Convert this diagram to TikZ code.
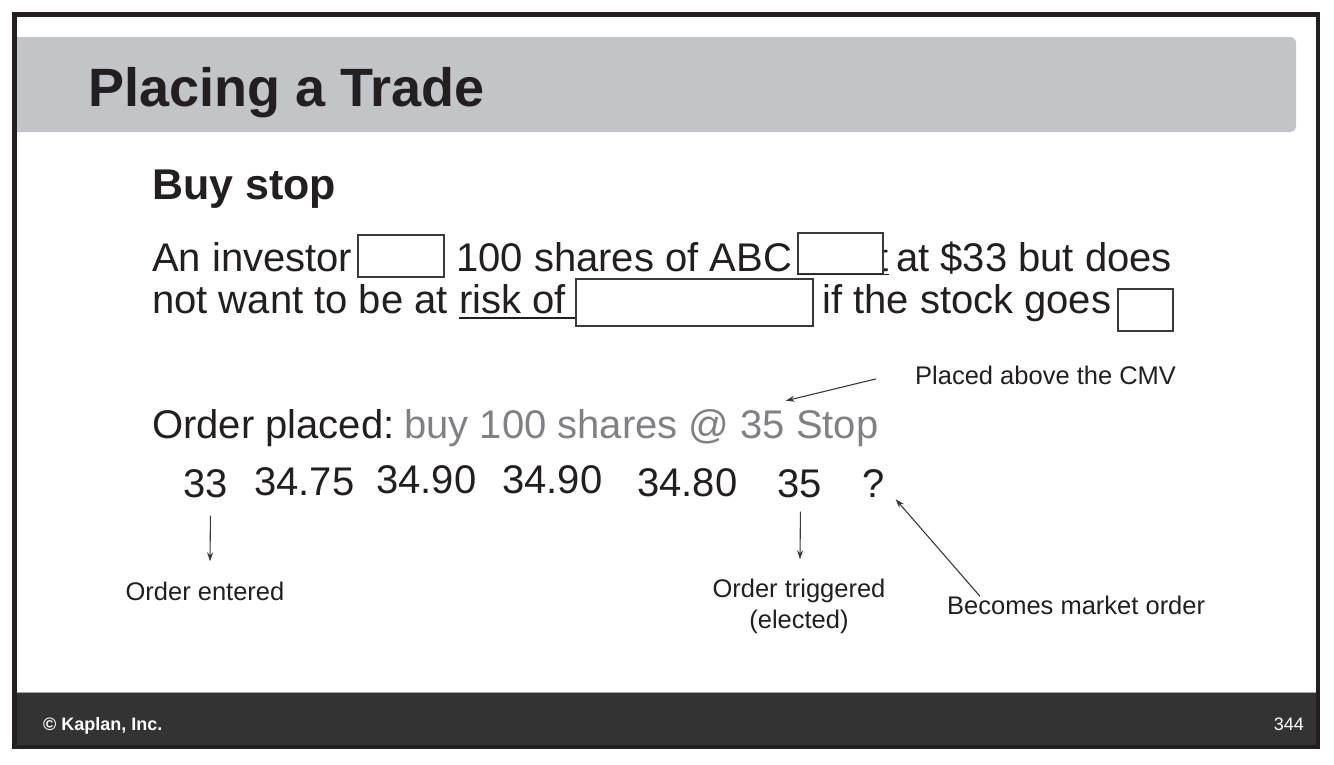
\documentclass[tikz,border=0pt]{standalone}
\usepackage{fontspec}
\setmainfont{Liberation Sans}
\usetikzlibrary{arrows.meta}
\definecolor{ink}{HTML}{231F20}
\definecolor{hdr}{HTML}{C3C4C7}
\definecolor{ftr}{HTML}{333333}
\definecolor{gtxt}{HTML}{808184}
\definecolor{lnc}{HTML}{3A3A3A}
\begin{document}
\begin{tikzpicture}[x=1pt,y=-1pt,
  body/.style={font=\fontsize{40}{48}\selectfont, text=ink, inner sep=0pt, anchor=base west},
  small/.style={font=\fontsize{25.5}{30}\selectfont, text=ink, inner sep=0pt},
  blank/.style={draw=lnc, line width=1.5pt, fill=white, inner sep=0pt, anchor=north west},
  arr/.style={draw=lnc, line width=1.1pt, -{Stealth[length=9pt,width=6pt]}},
  uline/.style={draw=ink, line width=1.8pt},
]
\useasboundingbox (0,0) rectangle (1334,764);
\fill[white] (0,0) rectangle (1334,764);
% header bar and footer
\fill[hdr] (14,37) [rounded corners=6pt] -- (1296,37) -- (1296,132) [sharp corners] -- (14,132) -- cycle;
\fill[ftr] (14,692) rectangle (1318,747);
\draw[gray!70, line width=0.8pt] (17,692) -- (1316,692);
% frame
\draw[ink, line width=4.5pt] (14.5,14.5) rectangle (1318,747);
% title
\node[anchor=base west, inner sep=0pt, font=\bfseries\fontsize{54}{60}\selectfont, text=ink] (title) at (88,106) {Placing a Trade};
\node[anchor=base west, inner sep=0pt, font=\bfseries\fontsize{43}{50}\selectfont, text=ink] (sub) at (152,199) {Buy stop};
% sentence line 1
\node[body] (l1a) at (152,271) {An investor};
\node[body] (l1b) at (456,271) {100 shares of ABC};
\node[body] (l1t) at (877,271) {t};
\node[body] (l1c) at (896,271) {at \$33 but does};
\node[blank, minimum width=86pt, minimum height=42pt] (b1) at (357,234) {};
\node[blank, minimum width=85pt, minimum height=41pt] (b2) at (797,232) {};
\draw[uline] (b2.south west) -- ([xshift=5pt]b2.south east);
% sentence line 2
\node[body] (l2a) at (152,313) {not want to be at};
\node[body] (l2b) at (459,313) {risk of};
\node[body] (l2c) at (822,313) {if the stock goes};
\node[body] (dot) at (1164,313) {.};
\node[blank, minimum width=237pt, minimum height=47pt] (b3) at (575,278) {};
\node[blank, minimum width=55pt, minimum height=42pt] (b4) at (1117,288) {};
\draw[uline] ([yshift=-5pt]l2b.base west) -- ([yshift=-5pt]l2b.base west -| b3.west);
% order placed
\node[body] (op) at (152,438) {Order placed:};
\node[body, text=gtxt] (gr) at (404,438) {buy 100 shares @ 35 Stop};
% price sequence
\node[body] (p1) at (183,497) {33};
\node[body] (p2) at (254,495) {34.75};
\node[body] (p3) at (376,493) {34.90};
\node[body] (p4) at (502,493) {34.90};
\node[body] (p5) at (637,496) {34.80};
\node[body] (p6) at (777,497) {35};
\node[body] (p7) at (862,497) {?};
% annotations
\node[small, anchor=base west] (cmv) at (915,384) {Placed above the CMV};
\node[small, anchor=base] (oe) at (205,600) {Order entered};
\node[small, anchor=base] (ot) at (799,597) {Order triggered};
\node[small, anchor=base] (el) at (799,628) {(elected)};
\node[small, anchor=base west] (bm) at (947,614) {Becomes market order};
% connectors
\draw[arr] ([xshift=-39pt,yshift=-4pt]cmv.west) -- ([xshift=-93pt,yshift=8pt]gr.north east);
\draw[arr] ([xshift=5pt,yshift=-18pt]p1.south) -- ([xshift=5pt,yshift=20pt]oe.north);
\draw[arr] ([xshift=1pt,yshift=-14pt]p6.south) -- ([xshift=1pt,yshift=19pt]ot.north);
\draw[arr] ([xshift=33pt,yshift=-1pt]bm.north west) -- ([xshift=11pt,yshift=-2pt]p7.south east);
% footer text
\node[anchor=base west, inner sep=0pt, font=\bfseries\fontsize{18}{22}\selectfont, text=white] (copy) at (43,730) {\textcopyright{} Kaplan, Inc.};
\node[anchor=base east, inner sep=0pt, font=\fontsize{18}{22}\selectfont, text=white] (pg) at (1304,730) {344};
\end{tikzpicture}
\end{document}
